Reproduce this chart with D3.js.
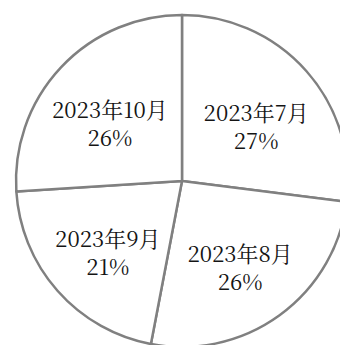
<!DOCTYPE html>
<html>
<head>
<meta charset="utf-8">
<script src="https://cdn.jsdelivr.net/npm/d3@7"></script>
<style>
  html, body { margin: 0; padding: 0; background: #fff; }
  svg { display: block; }
</style>
</head>
<body>
<svg id="chart" width="340" height="345"></svg>
<script>
// Monthly share (%), clockwise from 12 o'clock
const months = ["2023年7月", "2023年8月", "2023年9月", "2023年10月"];
const shares = [27, 26, 21, 26];

const width = 340, height = 345;
const cx = 182, cy = 181, radius = 166;

const svg = d3.select("#chart");
const g = svg.append("g").attr("transform", `translate(${cx},${cy})`);

const pie = d3.pie().sort(null).value(d => d.value);
const data = pie(months.map((m, i) => ({ month: m, value: shares[i] })));

const arc = d3.arc().innerRadius(0).outerRadius(radius);
const labelArc = d3.arc().innerRadius(96).outerRadius(96);

g.selectAll("path.slice")
  .data(data)
  .join("path")
  .attr("class", "slice")
  .attr("d", arc)
  .attr("fill", "#ffffff")
  .attr("stroke", "#808080")
  .attr("stroke-width", 2.5)
  .attr("stroke-linejoin", "round");

const labels = g.selectAll("text.label")
  .data(data)
  .join("text")
  .attr("class", "label")
  .attr("transform", d => {
    const [x, y] = labelArc.centroid(d);
    return `translate(${x * 1.03},${y})`;
  })
  .attr("text-anchor", "middle")
  .attr("fill", "#141414")
  .style("font-family", "'Noto Serif CJK JP', 'Noto Serif CJK SC', serif")
  .style("font-size", "22px");

labels.append("tspan")
  .attr("x", 0)
  .attr("y", 3)
  .text(d => d.data.month);

labels.append("tspan")
  .attr("x", 0)
  .attr("y", 31)
  .text(d => d.data.value + "%");
</script>
</body>
</html>
